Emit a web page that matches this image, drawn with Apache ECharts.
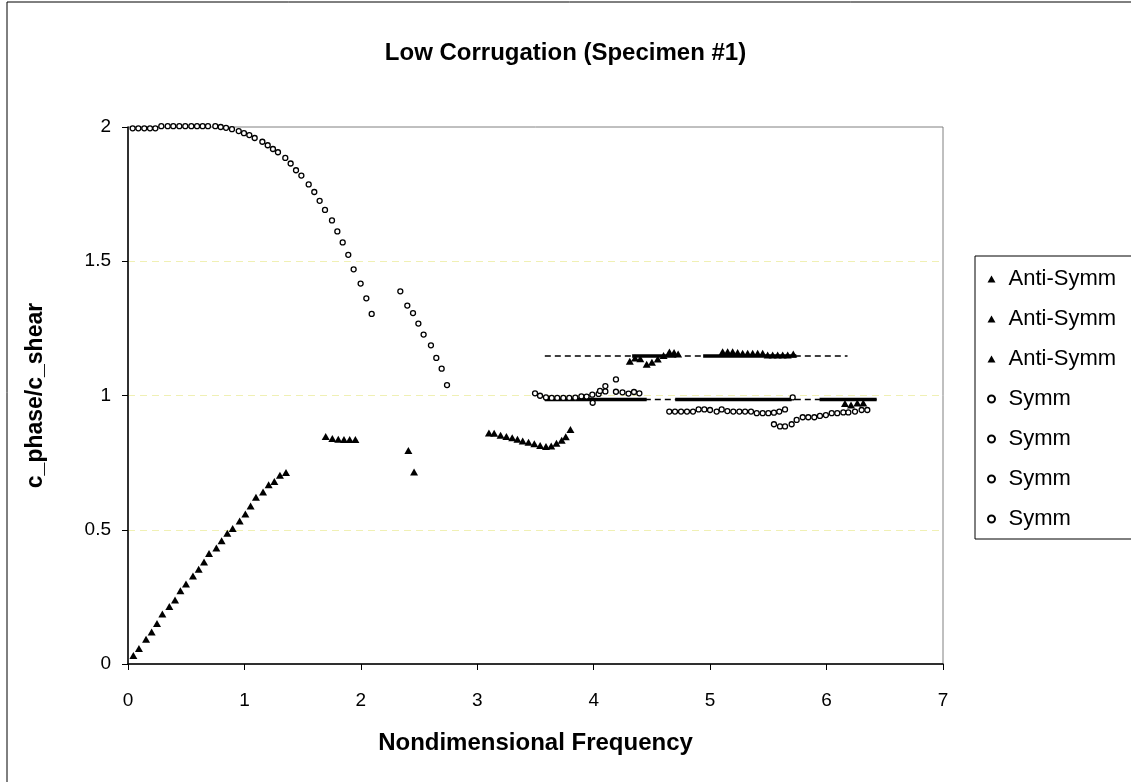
<!DOCTYPE html>
<html>
<head>
<meta charset="utf-8">
<title>Low Corrugation (Specimen #1)</title>
<script src="https://cdn.jsdelivr.net/npm/echarts@6/dist/echarts.min.js"></script>
<style>
  html, body { margin: 0; padding: 0; background: #fff; }
  #chart { width: 1131px; height: 782px; }
</style>
</head>
<body>
<div id="chart"></div>
<script>
// Measured phase velocity ratio vs nondimensional frequency, [frequency, c_phase/c_shear]
const antiSymm1 = [
  [0.046, 0.032], [0.094, 0.058], [0.155, 0.092], [0.203, 0.119], [0.249, 0.151],
  [0.295, 0.186], [0.355, 0.214], [0.404, 0.238], [0.450, 0.273], [0.498, 0.298],
  [0.558, 0.328], [0.607, 0.353], [0.653, 0.380], [0.696, 0.412], [0.759, 0.432],
  [0.804, 0.459], [0.853, 0.487], [0.899, 0.505], [0.959, 0.533], [1.008, 0.559],
  [1.053, 0.588], [1.099, 0.621], [1.160, 0.641], [1.208, 0.668], [1.257, 0.680],
  [1.305, 0.703], [1.357, 0.713],
  [1.698, 0.847], [1.755, 0.840], [1.806, 0.837], [1.855, 0.836], [1.904, 0.836], [1.953, 0.836],
  [2.408, 0.795], [2.457, 0.715]
];
const antiSymm2 = [
  [3.100, 0.860], [3.145, 0.859], [3.200, 0.852], [3.250, 0.847], [3.300, 0.843],
  [3.345, 0.837], [3.390, 0.831], [3.440, 0.826], [3.490, 0.820], [3.540, 0.814],
  [3.590, 0.810], [3.635, 0.812], [3.680, 0.822], [3.725, 0.833], [3.760, 0.846],
  [3.800, 0.873]
];
const antiSymm3 = [
  [4.310, 1.128], [4.355, 1.140], [4.400, 1.137], [4.455, 1.116], [4.500, 1.124],
  [4.550, 1.136], [4.600, 1.149], [4.650, 1.162], [4.690, 1.160], [4.725, 1.155],
  [5.107, 1.163], [5.150, 1.163], [5.193, 1.163], [5.236, 1.160], [5.279, 1.157],
  [5.322, 1.157], [5.365, 1.157], [5.408, 1.157], [5.451, 1.157], [5.494, 1.151],
  [5.537, 1.151], [5.580, 1.151], [5.623, 1.151], [5.666, 1.151], [5.714, 1.155],
  [6.158, 0.970], [6.210, 0.965], [6.264, 0.972], [6.315, 0.972]
];
const symm1 = [
  [0.040, 1.995], [0.089, 1.995], [0.140, 1.995], [0.189, 1.995], [0.235, 1.995],
  [0.286, 2.003], [0.341, 2.003], [0.389, 2.003], [0.441, 2.003], [0.492, 2.003],
  [0.544, 2.003], [0.593, 2.003], [0.641, 2.003], [0.687, 2.003], [0.750, 2.003],
  [0.796, 2.000], [0.842, 1.997], [0.893, 1.992], [0.951, 1.985], [0.996, 1.977],
  [1.042, 1.970], [1.088, 1.959], [1.154, 1.945], [1.200, 1.932], [1.245, 1.918],
  [1.288, 1.906], [1.351, 1.885], [1.397, 1.864], [1.443, 1.839], [1.489, 1.819],
  [1.552, 1.786], [1.600, 1.758], [1.646, 1.725], [1.692, 1.691], [1.752, 1.652],
  [1.798, 1.611], [1.844, 1.570], [1.892, 1.524], [1.938, 1.470], [1.998, 1.417],
  [2.047, 1.362], [2.093, 1.304]
];
const symm2 = [
  [2.339, 1.388], [2.399, 1.335], [2.448, 1.307], [2.494, 1.268], [2.539, 1.227],
  [2.602, 1.187], [2.648, 1.140], [2.694, 1.100], [2.740, 1.039]
];
const symm3 = [
  [3.496, 1.008], [3.539, 0.999], [3.590, 0.993], [3.639, 0.991], [3.687, 0.991],
  [3.739, 0.991], [3.790, 0.991], [3.842, 0.992], [3.894, 0.997], [3.939, 0.996],
  [3.988, 1.003], [3.991, 0.973], [4.042, 1.006], [4.054, 1.017], [4.100, 1.015],
  [4.100, 1.035], [4.191, 1.060], [4.191, 1.014], [4.247, 1.012], [4.299, 1.007],
  [4.346, 1.013], [4.392, 1.008]
];
const symm4 = [
  [4.649, 0.940], [4.698, 0.940], [4.750, 0.940], [4.801, 0.940], [4.853, 0.940],
  [4.901, 0.948], [4.950, 0.948], [4.999, 0.946], [5.056, 0.940], [5.099, 0.948],
  [5.148, 0.942], [5.199, 0.940], [5.251, 0.940], [5.300, 0.940], [5.351, 0.940],
  [5.400, 0.934], [5.451, 0.934], [5.500, 0.934], [5.548, 0.936], [5.594, 0.940],
  [5.643, 0.948], [5.709, 0.993],
  [5.548, 0.893], [5.600, 0.885], [5.643, 0.885], [5.700, 0.893], [5.743, 0.909],
  [5.795, 0.919], [5.843, 0.919], [5.895, 0.919], [5.943, 0.924], [5.994, 0.927],
  [6.044, 0.934], [6.092, 0.934], [6.144, 0.937], [6.187, 0.937], [6.244, 0.940],
  [6.301, 0.946], [6.350, 0.946]
];

// Predicted branches: dashed full extent, heavy segments where they are tracked
const dashedBranches = [
  [[3.58, 1.147], [6.18, 1.147]],
  [[3.58, 0.985], [6.43, 0.985]]
];
const solidBranches = [
  [[4.33, 1.147], [4.71, 1.147]],
  [[4.94, 1.147], [5.74, 1.147]],
  [[3.58, 0.985], [4.455, 0.985]],
  [[4.70, 0.985], [5.70, 0.985]],
  [[5.94, 0.985], [6.43, 0.985]]
];

// Axis ticks
const xTicks = { min: 0, max: 7, step: 1 };
const yTicks = { min: 0, max: 2, step: 0.5 };

const FONT = 'Liberation Sans, Arial, sans-serif';

const antiGroups = [antiSymm1, antiSymm2, antiSymm3];
const symmGroups = [symm1, symm2, symm3, symm4];

const lineSeries = [];
dashedBranches.forEach(seg => lineSeries.push({
  type: 'line', data: seg, silent: true, z: 1, symbol: 'none',
  lineStyle: { color: '#000', width: 1.4, type: [6, 4] }
}));
solidBranches.forEach(seg => lineSeries.push({
  type: 'line', data: seg, silent: true, z: 1, symbol: 'none',
  lineStyle: { color: '#000', width: 3.5 }
}));

const scatterSeries = [];
antiGroups.forEach((d, i) => scatterSeries.push({
  name: 'Anti-Symm #' + (i + 1), type: 'scatter', data: d, z: 3, clip: false,
  symbol: 'triangle', symbolSize: [8, 7],
  itemStyle: { color: '#000', opacity: 1 }
}));
symmGroups.forEach((d, i) => scatterSeries.push({
  name: 'Symm #' + (i + 1), type: 'scatter', data: d, z: 4, clip: false,
  symbol: 'circle', symbolSize: 5,
  itemStyle: { color: '#fff', borderColor: '#000', borderWidth: 1.3, opacity: 1 }
}));

const chart = echarts.init(document.getElementById('chart'), null, { renderer: 'canvas' });
chart.setOption({
  animation: false,
  backgroundColor: '#fff',
  title: {
    text: 'Low Corrugation (Specimen #1)',
    left: 'center', top: 36,
    textStyle: { fontFamily: FONT, fontWeight: 'bold', fontSize: 24, color: '#000' }
  },
  grid: {
    left: 128, right: 188, top: 127, bottom: 118,
    show: true, borderColor: '#808080', borderWidth: 1, backgroundColor: '#fff'
  },
  legend: {
    orient: 'vertical', left: 975, top: 256,
    padding: [12, 40, 9, 12],
    itemWidth: 8, itemHeight: 7, itemGap: 18,
    borderColor: '#000', borderWidth: 1,
    data: scatterSeries.map(s => s.name),
    formatter: name => name.replace(/ #\d+$/, ''),
    textStyle: { fontFamily: FONT, fontSize: 22, color: '#000', lineHeight: 20, padding: [0, 0, 0, 8] }
  },
  xAxis: {
    type: 'value', min: xTicks.min, max: xTicks.max, interval: xTicks.step,
    name: 'Nondimensional Frequency', nameLocation: 'middle', nameGap: 67,
    nameTextStyle: { fontFamily: FONT, fontWeight: 'bold', fontSize: 24, color: '#000' },
    axisLine: { show: true, onZero: false, lineStyle: { color: '#000', width: 1.5 } },
    axisTick: { show: true, inside: false, length: 6, lineStyle: { color: '#000', width: 1 } },
    axisLabel: { margin: 27, fontFamily: FONT, fontSize: 19, color: '#000' },
    splitLine: { show: false }
  },
  yAxis: {
    type: 'value', min: yTicks.min, max: yTicks.max, interval: yTicks.step,
    name: 'c_phase/c_shear', nameLocation: 'middle', nameRotate: 90, nameGap: 81,
    nameTextStyle: { fontFamily: FONT, fontWeight: 'bold', fontSize: 23, color: '#000' },
    axisLine: { show: true, onZero: false, lineStyle: { color: '#000', width: 1.5 } },
    axisTick: { show: true, inside: false, length: 6, lineStyle: { color: '#000', width: 1 } },
    axisLabel: { margin: 17, fontFamily: FONT, fontSize: 19, color: '#000' },
    splitLine: {
      show: true, showMinLine: false, showMaxLine: false,
      lineStyle: { color: '#f0f0b4', width: 1, type: [7, 5] }
    }
  },
  graphic: [{
    type: 'rect', silent: true, z: 100,
    shape: { x: 7, y: 2, width: 1200, height: 820 },
    style: { fill: null, stroke: '#000', lineWidth: 1 }
  }],
  series: lineSeries.concat(scatterSeries)
});
</script>
</body>
</html>
